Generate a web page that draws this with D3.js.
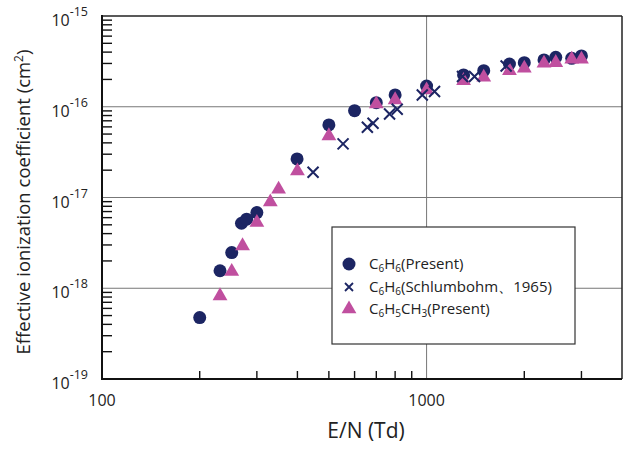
<!DOCTYPE html>
<html><head><meta charset="utf-8">
<script src="https://cdn.jsdelivr.net/npm/d3@7"></script>
<style>body{margin:0;background:#fff;} svg{display:block;font-family:"Open Sans",sans-serif;}</style>
</head><body><svg id="c" width="624" height="449"></svg>
<script>
// Data (E/N in Td, coefficient in cm^2)
const benzeneX = [200, 231, 251, 269, 279, 300, 399, 500, 600, 700, 800, 1000, 1300, 1500, 1800, 2000, 2300, 2500, 2800, 3000];
const benzeneY = [4.75e-19, 1.56e-18, 2.47e-18, 5.2e-18, 5.77e-18, 6.82e-18, 2.66e-17, 6.3e-17, 9.06e-17, 1.11e-16, 1.35e-16, 1.69e-16, 2.24e-16, 2.5e-16, 2.96e-16, 3.06e-16, 3.28e-16, 3.51e-16, 3.42e-16, 3.63e-16];
const schlumX = [447, 553, 657, 684, 769, 812, 970, 1058, 1290, 1405, 1758];
const schlumY = [1.9e-17, 3.9e-17, 5.95e-17, 6.58e-17, 8.33e-17, 9.38e-17, 1.35e-16, 1.47e-16, 2.15e-16, 2.15e-16, 2.81e-16];
const tolueneX = [231, 251, 271, 300, 330, 350, 400, 500, 700, 800, 1000, 1300, 1500, 1800, 2000, 2300, 2500, 2800, 3000];
const tolueneY = [8.24e-19, 1.53e-18, 2.93e-18, 5.3e-18, 8.9e-18, 1.23e-17, 1.96e-17, 4.77e-17, 1.07e-16, 1.19e-16, 1.53e-16, 1.94e-16, 2.11e-16, 2.5e-16, 2.65e-16, 3.01e-16, 3.06e-16, 3.33e-16, 3.33e-16];
const xMajorTicks = [100, 1000];
const xMinorTicks = [200, 300, 400, 500, 600, 700, 800, 900, 2000, 3000];
const yExponents = [-15, -16, -17, -18, -19];
const legendLabels = [
  [["C"],["6","sub"],["H"],["6","sub"],["(Present)"]],
  [["C"],["6","sub"],["H"],["6","sub"],["(Schlumbohm、1965)"]],
  [["C"],["6","sub"],["H"],["5","sub"],["CH"],["3","sub"],["(Present)"]]
];
const xTitle = "E/N (Td)";
const yTitle = "Effective ionization coefficient (cm";

const navy = "#1c2563", pink = "#c04f9f";
const L = 102, R = 622, T = 16, B = 379;
const svg = d3.select("#c");
const x = d3.scaleLog().domain([100, 4000]).range([L, R]);
const y = d3.scaleLog().domain([1e-19, 1e-15]).range([B, T]);

// minor y ticks
const yMinor = [];
for (let e = -19; e < -15; e++) for (let m = 2; m <= 9; m++) yMinor.push(m * Math.pow(10, e));
svg.append("g").selectAll("line").data(yMinor).join("line")
  .attr("x1", L).attr("x2", L + 10).attr("y1", d => y(d)).attr("y2", d => y(d))
  .attr("stroke", "#111").attr("stroke-width", 1.4);
// grid
svg.append("g").selectAll("line").data([1e-16, 1e-17, 1e-18]).join("line")
  .attr("x1", L).attr("x2", R).attr("y1", d => y(d)).attr("y2", d => y(d))
  .attr("stroke", "#777").attr("stroke-width", 1);
svg.append("line").attr("x1", x(1000)).attr("x2", x(1000)).attr("y1", T).attr("y2", B)
  .attr("stroke", "#777").attr("stroke-width", 1);
svg.append("g").selectAll("line").data(xMinorTicks).join("line")
  .attr("x1", d => x(d)).attr("x2", d => x(d)).attr("y1", B).attr("y2", B - 8)
  .attr("stroke", "#111").attr("stroke-width", 1.4);
// frame
svg.append("line").attr("x1", L).attr("x2", R).attr("y1", T).attr("y2", T).attr("stroke", "#222").attr("stroke-width", 1.5);
svg.append("line").attr("x1", R).attr("x2", R).attr("y1", T).attr("y2", B).attr("stroke", "#222").attr("stroke-width", 1.5);
svg.append("line").attr("x1", L).attr("x2", L).attr("y1", T - 1).attr("y2", B + 1).attr("stroke", "#111").attr("stroke-width", 2);
svg.append("line").attr("x1", L - 1).attr("x2", R).attr("y1", B).attr("y2", B).attr("stroke", "#111").attr("stroke-width", 2);

// y tick labels
const yl = svg.append("g").attr("font-size", 16).attr("fill", "#222");
yExponents.forEach(e => {
  const t = yl.append("text").attr("x", 88).attr("y", y(Math.pow(10, e)) + 10).attr("text-anchor", "end");
  t.append("tspan").text("10");
  t.append("tspan").attr("dy", -10).attr("font-size", 12.5).text(String(e));
});
// x tick labels
svg.append("g").selectAll("text").data(xMajorTicks).join("text")
  .attr("x", d => x(d)).attr("y", 406).attr("text-anchor", "middle")
  .attr("font-size", 16).attr("fill", "#222").text(d => d);

// titles
svg.append("text").attr("x", 366).attr("y", 438).attr("text-anchor", "middle")
  .attr("font-size", 21).attr("fill", "#222").text(xTitle);
const yt = svg.append("text").attr("transform", "translate(30,202) rotate(-90)")
  .attr("text-anchor", "middle").attr("font-size", 18.5).attr("fill", "#222");
yt.append("tspan").text(yTitle);
yt.append("tspan").attr("dy", -7).attr("font-size", 12).text("2");
yt.append("tspan").attr("dy", 7).text(")");

// markers
const tri = d3.symbol().type(d3.symbolTriangle).size(95);
svg.append("g").selectAll("circle").data(benzeneX.map((v, i) => [v, benzeneY[i]])).join("circle")
  .attr("cx", d => x(d[0])).attr("cy", d => y(d[1])).attr("r", 6.5).attr("fill", navy);
svg.append("g").selectAll("path").data(tolueneX.map((v, i) => [v, tolueneY[i]])).join("path")
  .attr("d", tri).attr("transform", d => `translate(${x(d[0])},${y(d[1])})`).attr("fill", pink);
const cs = 5.5;
svg.append("g").selectAll("path").data(schlumX.map((v, i) => [v, schlumY[i]])).join("path")
  .attr("d", d => { const cx = x(d[0]), cy = y(d[1]); return `M${cx-cs},${cy-cs}L${cx+cs},${cy+cs}M${cx-cs},${cy+cs}L${cx+cs},${cy-cs}`; })
  .attr("stroke", navy).attr("stroke-width", 2).attr("fill", "none");

// legend
const lg = svg.append("g");
lg.append("rect").attr("x", 332).attr("y", 227).attr("width", 243).attr("height", 117)
  .attr("fill", "#fff").attr("stroke", "#333").attr("stroke-width", 1.2);
const rows = [264, 287, 309];
lg.append("circle").attr("cx", 349).attr("cy", rows[0]).attr("r", 6.5).attr("fill", navy);
lg.append("path").attr("d", `M345,${rows[1]-4}L353,${rows[1]+4}M345,${rows[1]+4}L353,${rows[1]-4}`)
  .attr("stroke", navy).attr("stroke-width", 1.8);
lg.append("path").attr("d", tri).attr("transform", `translate(349,${rows[2]})`).attr("fill", pink);
legendLabels.forEach((parts, i) => {
  const t = lg.append("text").attr("x", 369).attr("y", rows[i] + 5).attr("font-size", 15).attr("fill", "#222");
  let shifted = false;
  parts.forEach(p => {
    const s = t.append("tspan").text(p[0]);
    if (p[1] === "sub") { s.attr("font-size", 10).attr("dy", shifted ? 0 : 3); shifted = true; }
    else { if (shifted) s.attr("dy", -3); shifted = false; }
  });
});
</script></body></html>
